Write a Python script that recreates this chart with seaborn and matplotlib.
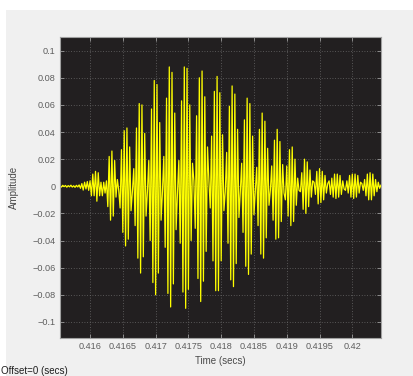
import numpy as np
import pandas as pd
import matplotlib
matplotlib.use("Agg")
import matplotlib.pyplot as plt
from matplotlib.patches import Rectangle
import seaborn as sns

# Sampling grid of the captured segment
fs = 48000
first_sample = 19946

# Sample amplitudes, in order
onset = [
    0.0004, -0.0006, 0.0007, -0.0003, 0.0006, -0.0007, 0.0005, -0.0004,
    0.0008, -0.0006, 0.0004, -0.0008, 0.0007, -0.0005, 0.0010,
    -0.0015, 0.0020, -0.0028, 0.0030, -0.0020, 0.0035, -0.0030, 0.0040,
    -0.007, 0.009, -0.007, 0.011, -0.011, 0.010, -0.007, 0.003, -0.007,
    0.003, -0.005, 0.004, -0.015, 0.022, -0.025, 0.026, -0.022, 0.019,
    -0.008, 0.005, -0.003, -0.016, 0.027, -0.034, 0.041, -0.044,
]
burst = [
    0.043, -0.039, 0.029, -0.018, -0.004, 0.013, -0.029, 0.043, -0.053, 0.061, -0.064, 0.060,
    -0.052, 0.039, -0.022, -0.004, 0.019, -0.040, 0.057, -0.071, 0.078, -0.080, 0.075, -0.064,
    0.047, -0.025, -0.004,
    0.022, -0.045, 0.065, -0.079, 0.088, -0.089, 0.084, -0.072, 0.054, -0.032, -0.005,
    0.019, -0.042, 0.063, -0.078, 0.088, -0.090, 0.087, -0.076, 0.060, -0.040, 0.017, 0.004,
    -0.031, 0.052, -0.068, 0.080, -0.085, 0.085, -0.070, 0.066, -0.048, 0.029, 0.004,
    -0.016, 0.037, -0.055, 0.070, -0.077, 0.081, -0.077, 0.069, -0.055, 0.038, -0.018, -0.004,
    0.025, -0.042, 0.059, -0.069, 0.074, -0.074, 0.068, -0.057, 0.042, -0.023, -0.004,
    0.017, -0.034, 0.049, -0.059, 0.065, -0.065, 0.061, -0.050, 0.037, -0.021, -0.003,
    0.014, -0.029, 0.042, -0.050, 0.054, -0.053, 0.048, -0.038, 0.028, -0.014, -0.003,
]
decay = [
    0.015, -0.025, 0.034, -0.039, 0.042, -0.038, 0.033, -0.026, 0.016, -0.005, -0.010,
    0.015, -0.022, 0.027, -0.029, 0.029, -0.026, 0.020, -0.014, 0.006, -0.003, -0.004,
    0.010, -0.017, 0.020, -0.020, 0.018, -0.015, 0.012, -0.008, 0.004, 0.003, -0.006,
    0.011, -0.013, 0.013, -0.012, 0.011, -0.010, 0.008, -0.005, 0.002, 0.004,
    -0.006, 0.006, -0.008, 0.009, -0.009, 0.009, -0.008, 0.008, -0.006, 0.004, -0.002, -0.003,
    0.004, -0.005, 0.008, -0.008, 0.009, -0.009, 0.009, -0.008, 0.008, -0.005, 0.003, 0.002,
    -0.003, 0.005, -0.007, 0.009, -0.010, 0.010, -0.010, 0.009, -0.007, 0.005, -0.004, 0.003,
    -0.0015, 0.001,
]

x_ticks = [0.416, 0.4165, 0.417, 0.4175, 0.418, 0.4185, 0.419, 0.4195, 0.42]
x_tick_labels = ["0.416", "0.4165", "0.417", "0.4175", "0.418", "0.4185", "0.419", "0.4195", "0.42"]
y_ticks = [0.1, 0.08, 0.06, 0.04, 0.02, 0.0, -0.02, -0.04, -0.06, -0.08, -0.1]
y_tick_labels = ["0.1", "0.08", "0.06", "0.04", "0.02", "0",
                 "\u22120.02", "\u22120.04", "\u22120.06", "\u22120.08", "\u22120.1"]

amplitude = np.array(onset + burst + decay)
time = (first_sample + np.arange(amplitude.size)) / fs
df = pd.DataFrame({"Time (secs)": time, "Amplitude": amplitude})

sns.set_style("dark")
plt.rcParams["font.family"] = ["Liberation Sans", "DejaVu Sans"]

W, H = 414, 376
fig = plt.figure(figsize=(W / 100, H / 100), dpi=100, facecolor="white")
fig.add_artist(Rectangle((6 / W, 0), 1, 1 - 10 / H, transform=fig.transFigure,
                         facecolor="#F0F0F0", edgecolor="none", zorder=-10))

ax_l, ax_r, ax_t, ax_b = 60, 381, 36.7, 338.3
ax = fig.add_axes([ax_l / W, 1 - ax_b / H, (ax_r - ax_l) / W, (ax_b - ax_t) / H])
ax.set_facecolor("#221F20")

sns.lineplot(data=df, x="Time (secs)", y="Amplitude", ax=ax, color="#FFFF00",
             linewidth=0.9, estimator=None, sort=False)

ax.set_xlim(time[0], time[-1])
ax.set_ylim(-0.1121, 0.1103)
ax.set_xticks(x_ticks)
ax.set_xticklabels(x_tick_labels)
ax.set_yticks(y_ticks)
ax.set_yticklabels(y_tick_labels)

ax.grid(True, color="#6A6A6A", linestyle=(0, (1, 2.2)), linewidth=0.6)
ax.tick_params(direction="in", length=3, width=0.6, color="#9A9A9A",
               top=True, right=True, bottom=True, left=True,
               labelsize=6.6, labelcolor="#5E5E5E", pad=3)
for sp in ax.spines.values():
    sp.set_visible(True)
    sp.set_color("#A0A0A0")
    sp.set_linewidth(0.8)

ax.set_xlabel("Time (secs)", fontsize=7, color="#4A4A4A")
ax.xaxis.label.set_va("center")
ax.xaxis.set_label_coords(0.5, (ax_b - 361.5) / (ax_b - ax_t))
ax.set_ylabel("Amplitude", fontsize=7, color="#4A4A4A")
ax.yaxis.label.set_va("center")
ax.yaxis.set_label_coords((14 - ax_l) / (ax_r - ax_l), 0.5)

fig.text(1 / W, 1 - 371.5 / H, "Offset=0 (secs)", ha="left", va="center",
         fontsize=7, color="#1E1E1E")

fig.savefig("out.png", dpi=100, facecolor="white")
